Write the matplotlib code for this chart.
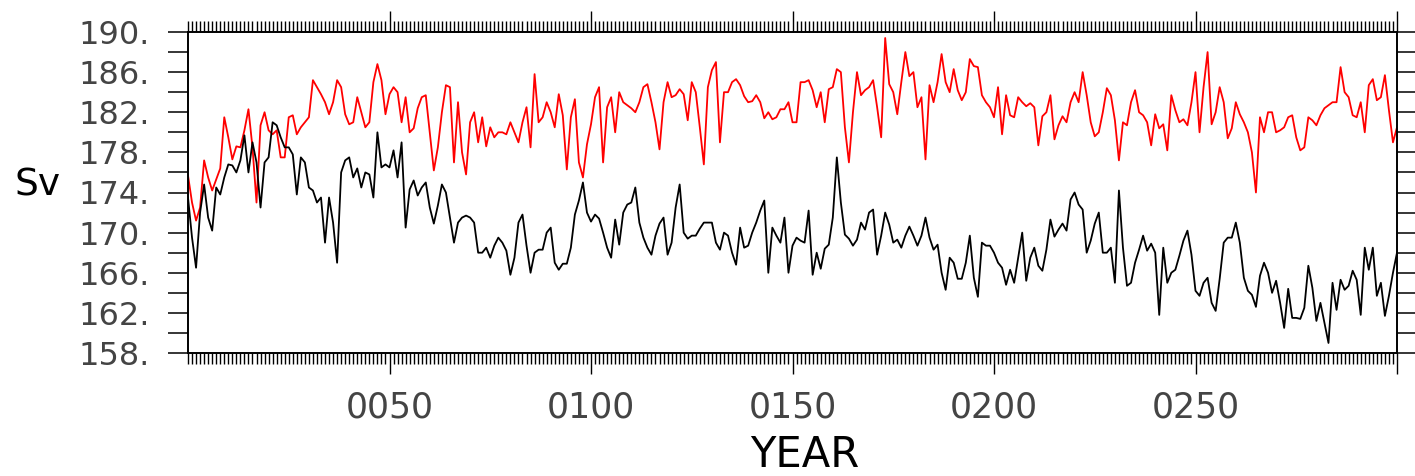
import numpy as np
import matplotlib
matplotlib.use("Agg")
import matplotlib.pyplot as plt
from matplotlib.ticker import MultipleLocator, FixedLocator

years = list(range(0, 301))

red_series = [
    175.7, 173.0, 171.2, 172.5, 177.2, 175.5, 174.2, 175.3, 176.4, 181.5,
    179.5, 177.3, 178.6, 178.5, 180.2, 182.3, 178.5, 173.0, 180.7, 182.0,
    180.2, 179.8, 180.2, 177.5, 177.5, 181.5, 181.7, 179.8, 180.5, 181.0,
    181.5, 185.2, 184.5, 183.8, 183.0, 181.8, 183.0, 185.2, 184.5, 181.8,
    180.8, 181.0, 183.5, 182.0, 180.5, 181.0, 185.0, 186.8, 185.2, 181.8,
    183.8, 184.5, 184.0, 181.0, 183.5, 180.0, 180.4, 182.4, 183.5, 183.7,
    180.0, 176.2, 178.5, 182.0, 184.7, 184.5, 177.0, 183.0, 178.0, 175.8,
    181.0, 182.0, 179.0, 181.5, 178.6, 180.5, 179.5, 180.0, 180.0, 179.8,
    181.0, 180.0, 179.0, 181.0, 182.5, 178.5, 185.8, 181.0, 181.5, 183.0,
    182.0, 180.5, 183.8, 181.7, 176.3, 181.5, 183.3, 177.0, 175.5, 178.8,
    180.8, 183.5, 184.5, 177.0, 182.5, 183.5, 180.0, 184.0, 183.0, 182.7,
    182.4, 182.0, 183.0, 184.5, 184.8, 183.0, 181.0, 178.3, 183.0, 185.0,
    183.5, 183.7, 184.3, 183.8, 181.2, 185.0, 184.0, 180.5, 176.8, 184.5,
    186.2, 187.0, 179.0, 184.0, 184.0, 185.0, 185.3, 184.7, 183.6, 183.0,
    183.1, 183.7, 183.0, 181.4, 182.0, 181.3, 181.5, 182.3, 182.3, 183.0,
    181.0, 181.0, 185.0, 185.0, 185.2, 184.2, 182.5, 184.0, 181.0, 184.3,
    184.5, 186.3, 186.0, 180.5, 177.0, 182.0, 186.0, 183.7, 184.2, 184.5,
    185.2, 182.5, 179.5, 189.4, 184.8, 184.0, 181.8, 185.0, 188.0, 185.6,
    186.0, 182.5, 183.5, 177.3, 184.7, 183.0, 185.0, 187.8, 185.0, 184.0,
    186.3, 184.2, 183.2, 184.0, 187.3, 186.6, 186.5, 183.7, 183.0, 182.5,
    181.5, 184.5, 179.8, 183.7, 181.7, 181.5, 183.5, 183.0, 182.6, 182.9,
    182.5, 178.7, 181.6, 182.0, 183.7, 179.3, 180.7, 181.6, 181.0, 183.0,
    184.0, 183.0, 186.0, 183.7, 181.0, 179.6, 180.0, 182.0, 184.4, 183.7,
    181.2, 177.2, 181.0, 180.7, 183.0, 184.2, 182.0, 181.7, 181.0, 178.7,
    181.8, 180.4, 180.8, 178.2, 183.7, 182.2, 181.0, 181.3, 180.7, 183.0,
    186.0, 180.0, 184.5, 188.0, 180.8, 182.0, 184.5, 183.0, 179.4, 180.4,
    183.0, 181.8, 181.0, 180.0, 178.0, 174.0, 181.5, 180.0, 182.0, 182.0,
    180.0, 180.2, 180.5, 181.5, 181.7, 179.5, 178.2, 178.5, 181.5, 181.2,
    180.7, 181.7, 182.4, 182.7, 183.0, 183.0, 186.5, 184.0, 183.5, 181.7,
    181.5, 183.0, 180.0, 184.7, 185.3, 183.2, 183.5, 185.7, 182.2, 179.0, 180.5,
]

black_series = [
    173.5, 169.5, 166.5, 172.0, 174.8, 171.5, 170.2, 174.5, 173.8, 175.5,
    176.8, 176.7, 176.0, 177.2, 179.7, 176.0, 179.0, 177.0, 172.5, 177.0,
    177.5, 181.0, 180.7, 179.5, 178.5, 178.5, 177.8, 173.8, 177.5, 177.0,
    174.5, 174.2, 173.0, 173.5, 169.0, 173.5, 171.0, 167.0, 176.0, 177.2,
    177.5, 175.5, 176.4, 174.5, 176.0, 175.8, 173.5, 180.0, 176.5, 176.8,
    176.5, 178.2, 175.5, 179.0, 170.5, 174.3, 175.2, 173.7, 174.5, 175.0,
    172.5, 170.9, 172.7, 174.8, 174.0, 171.5, 169.0, 171.0, 171.5, 171.7,
    171.5, 171.0, 168.0, 168.0, 168.5, 167.5, 168.7, 169.5, 169.0, 168.2,
    165.8, 167.5, 171.0, 171.8, 168.7, 166.0, 168.0, 168.3, 168.3, 170.0,
    170.5, 167.0, 166.3, 166.9, 166.9, 168.5, 171.8, 173.2, 175.0, 172.0,
    171.1, 171.8, 171.4, 170.0, 168.5, 167.5, 171.3, 168.8, 172.0, 172.8,
    173.0, 174.5, 171.0, 169.5, 168.5, 167.8, 169.7, 170.9, 171.5, 167.8,
    169.0, 172.5, 174.8, 170.0, 169.4, 169.7, 169.7, 170.4, 171.0, 171.0,
    171.0, 169.0, 168.3, 170.0, 169.7, 168.0, 166.8, 170.5, 168.5, 168.7,
    170.0, 171.0, 172.2, 173.2, 166.0, 170.5, 169.7, 169.0, 171.5, 166.0,
    168.7, 169.5, 169.2, 169.0, 172.2, 165.8, 168.0, 166.4, 168.4, 168.8,
    171.5, 177.5, 173.0, 169.8, 169.4, 168.7, 169.3, 171.0, 170.3, 172.0,
    172.3, 167.8, 169.7, 172.0, 170.8, 169.0, 169.3, 168.5, 169.7, 170.6,
    169.7, 168.7, 169.7, 171.5, 169.5, 168.3, 168.8, 166.0, 164.3, 167.5,
    167.0, 165.4, 165.4, 167.0, 169.7, 165.5, 163.6, 169.0, 168.7, 168.7,
    168.0, 167.0, 166.5, 164.8, 166.3, 165.0, 167.5, 170.0, 165.2, 167.5,
    168.5, 166.7, 166.2, 168.3, 171.3, 169.6, 170.3, 170.9, 170.2, 173.3,
    174.0, 172.8, 172.3, 168.0, 169.2, 170.9, 172.0, 168.0, 168.0, 168.5,
    165.0, 174.2, 168.5, 164.7, 165.0, 167.0, 168.3, 169.7, 168.2, 168.9,
    168.0, 161.8, 168.5, 165.0, 166.0, 166.3, 167.7, 169.2, 170.2, 167.8,
    164.2, 163.7, 165.0, 165.5, 163.0, 162.2, 165.4, 169.0, 169.5, 169.5,
    171.0, 169.0, 165.5, 164.2, 163.8, 162.6, 165.7, 167.0, 166.0, 164.0,
    165.2, 163.0, 160.5, 164.4, 161.5, 161.5, 161.4, 162.5, 166.7, 164.5,
    161.2, 163.0, 161.0, 159.0, 165.0, 162.3, 165.3, 164.3, 164.7, 166.2,
    165.3, 161.8, 168.5, 166.3, 168.5, 163.7, 165.0, 161.7, 163.7, 166.0, 168.0,
]

x_major = [50, 100, 150, 200, 250, 300]
x_labels = ["0050", "0100", "0150", "0200", "0250", ""]
y_major = [158, 162, 166, 170, 174, 178, 182, 186, 190]
y_labels = ["158.", "162.", "166.", "170.", "174.", "178.", "182.", "186.", "190."]
y_minor = [160, 164, 168, 172, 176, 180, 184, 188]

fig = plt.figure(figsize=(14.15, 4.76), dpi=100)
ax = fig.add_axes([188 / 1415, 1 - 353 / 476, (1397 - 188) / 1415, (353 - 32) / 476])

ax.plot(years, red_series, color="#ff0000", lw=1.3)
ax.plot(years, black_series, color="black", lw=1.3)

ax.set_xlim(0, 300)
ax.set_ylim(158, 190)

ax.xaxis.set_major_locator(FixedLocator(x_major))
ax.set_xticklabels(x_labels)
ax.xaxis.set_minor_locator(MultipleLocator(1))
ax.yaxis.set_major_locator(FixedLocator(y_major))
ax.set_yticklabels(y_labels)
ax.yaxis.set_minor_locator(FixedLocator(y_minor))

for s in ax.spines.values():
    s.set_linewidth(1.4)

ax.tick_params(axis="x", which="major", direction="out", length=15, width=1.0,
               top=True, bottom=True, labelsize=25, pad=12, labelcolor="#444444")
ax.tick_params(axis="x", which="minor", direction="out", length=8, width=1.0,
               top=True, bottom=True)
ax.tick_params(axis="y", which="both", direction="out", length=14.5, width=1.1,
               left=True, right=True)
ax.tick_params(axis="y", which="major", labelsize=23, pad=13, labelcolor="#444444")

fig.text(38 / 1415, 1 - 186 / 476, "Sv", fontsize=27, ha="center", va="center")
fig.text(805 / 1415, 1 - 455 / 476, "YEAR", fontsize=30, ha="center", va="center")

fig.savefig("out.png", dpi=100)
